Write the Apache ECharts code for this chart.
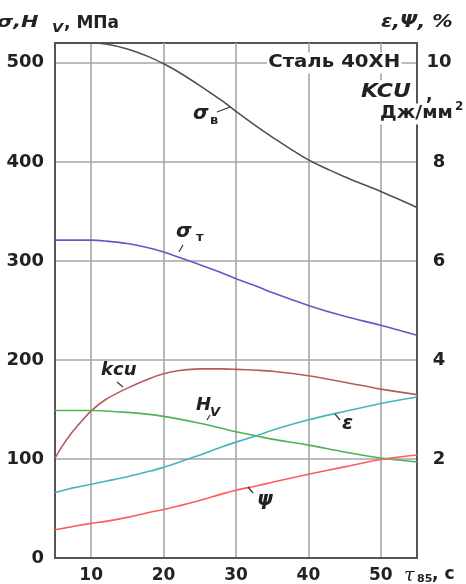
<!DOCTYPE html>
<html><head><meta charset="utf-8">
<script src="https://cdn.jsdelivr.net/npm/echarts@6/dist/echarts.min.js"></script>
<style>html,body{margin:0;padding:0;background:#fff}#c{width:466px;height:584px}</style>
</head><body><div id="c"></div>
<script>
// t85, s
const tValues   = [5, 6, 7, 8, 10, 12, 15, 18, 20, 22, 25, 28, 30, 33, 35, 40, 45, 50, 55];
// MPa (left axis)
const sigmaB    = [520, 520, 520, 520, 520, 519, 514, 506, 499, 491, 477, 462, 451, 435, 425, 402, 385, 370, 354];
const sigmaT    = [321, 321, 321, 321, 321, 320, 317.5, 313, 309, 304, 296, 288, 282, 274, 268, 255, 244, 235, 225];
const hv        = [149, 149, 149, 149, 149, 148.5, 147, 145, 143, 140.5, 136, 131, 127.5, 123, 120, 114, 107, 101, 97];
// J/mm2 and % (right axis)
const kcu       = [2.02, 2.26, 2.47, 2.65, 2.97, 3.20, 3.43, 3.62, 3.72, 3.78, 3.82, 3.82, 3.81, 3.79, 3.77, 3.68, 3.55, 3.41, 3.30];
const epsilon   = [1.32, 1.36, 1.40, 1.43, 1.49, 1.55, 1.64, 1.75, 1.83, 1.93, 2.08, 2.24, 2.34, 2.48, 2.58, 2.79, 2.96, 3.12, 3.25];
const psi       = [0.57, 0.595, 0.62, 0.65, 0.70, 0.74, 0.82, 0.92, 0.98, 1.05, 1.16, 1.29, 1.37, 1.46, 1.53, 1.69, 1.84, 1.99, 2.08];
const xTicks    = [10, 20, 30, 40, 50];
const yLeftTicks  = [0, 100, 200, 300, 400, 500];
const yRightTicks = [2, 4, 6, 8, 10];

const pair = arr => tValues.map((t, i) => [t, arr[i]]);
const FONT = '"DejaVu Sans", Arial, sans-serif';
const LBL = { fontFamily: FONT, fontSize: 17, fontWeight: 'bold', color: '#222' };
const gridLine = { show: true, showMinLine: false, showMaxLine: false, lineStyle: { color: '#a6a6a6', width: 1.6 } };
const axLine = { show: true, lineStyle: { color: '#555', width: 2 } };

const chart = echarts.init(document.getElementById('c'), null, { renderer: 'canvas' });

function ser(name, arr, color, yIdx, w) {
  return { name, type: 'line', data: pair(arr), yAxisIndex: yIdx, smooth: 0.3, showSymbol: false,
           lineStyle: { color, width: w || 1.6 }, itemStyle: { color }, z: 3 };
}

const T = (text, x, y, font, extra, sx) => ({ type: 'text', x, y, z: 50, scaleX: sx || 1,
  style: Object.assign({ text, font, fill: '#222', textVerticalAlign: 'middle', verticalAlign: 'middle', textAlign: 'left', align: 'left' }, extra || {}) });
const L = (x1, y1, x2, y2) => ({ type: 'line', z: 50, shape: { x1, y1, x2, y2 }, style: { stroke: '#333', lineWidth: 1.2 } });
const IB = 'italic bold 20px ' + FONT;
const B = 'bold 17px ' + FONT;

chart.setOption({
  animation: false,
  backgroundColor: '#fff',
  grid: { left: 55, right: 49, top: 43, bottom: 26, show: true, borderColor: '#555', borderWidth: 2, backgroundColor: 'transparent' },
  xAxis: {
    type: 'value', min: 5, max: 55, splitNumber: 5, minInterval: 10, maxInterval: 10,
    axisLine: axLine, axisTick: { show: false }, splitLine: gridLine,
    axisLabel: Object.assign({}, LBL, { margin: 9, formatter: v => xTicks.includes(v) ? String(v) : '' })
  },
  yAxis: [
    { type: 'value', min: 0, max: 520, interval: 100, position: 'left',
      axisLine: axLine, axisTick: { show: false }, splitLine: gridLine,
      axisLabel: Object.assign({}, LBL, { fontSize: 18, margin: 11, formatter: v => yLeftTicks.includes(v) ? String(v) : '' }) },
    { type: 'value', min: 0, max: 10.4, interval: 2, position: 'right',
      axisLine: axLine, axisTick: { show: false }, splitLine: { show: false },
      axisLabel: Object.assign({}, LBL, { fontSize: 18, margin: 22, align: 'center', formatter: v => yRightTicks.includes(v) ? String(v) : '' }) }
  ],
  series: [
    ser('σв', sigmaB, '#505050', 0),
    ser('σт', sigmaT, '#5c5cc8', 0),
    ser('KCU', kcu, '#b65c5c', 1),
    ser('Hv', hv, '#52b252', 0),
    ser('ε', epsilon, '#45b3c2', 1),
    ser('ψ', psi, '#ff5c5c', 1)
  ],
  graphic: [
    // axis titles
    T('σ,H', -3, 23, 'italic bold 16px ' + FONT, null, 1.3),
    T('V', 52, 29, 'italic bold 13px ' + FONT, null, 1.1),
    T(', МПа', 64, 24, B),
    T('ε,Ψ, %', 381, 23, 'italic bold 17px ' + FONT, null, 1.2),
    T('Сталь 40ХН', 267, 63, B, { backgroundColor: '#fff', padding: [2, 1] }, 1.16),
    T('KCU', 360, 92, 'italic bold 20px ' + FONT, { backgroundColor: '#fff', padding: [2, 1] }, 1.1),
    T(',', 426, 96, B),
    T('Дж/мм', 379, 114, B, { backgroundColor: '#fff', padding: [2, 1] }, 1.1),
    T('2', 455, 107, 'bold 12px ' + FONT),
    T('τ', 404, 576, 'italic 19px "DejaVu Serif", serif'),
    T('85', 417, 579, 'bold 11px ' + FONT),
    T(', с', 432, 575, B),
    // curve annotations
    T('σ', 193, 114, IB), T('в', 210, 121, 'bold 13px ' + FONT), L(217, 112, 230, 107),
    T('σ', 176, 232, IB), T('т', 196, 238, 'bold 13px ' + FONT), L(183, 245, 179, 252),
    T('kcu', 101, 370, 'italic bold 18px ' + FONT), L(117, 382, 123, 387),
    T('H', 196, 405, 'italic bold 18px ' + FONT), T('V', 210, 413, 'italic bold 13px ' + FONT), L(210, 415, 207, 420),
    T('ε', 342, 424, IB), L(335, 414, 340, 420),
    T('ψ', 257, 500, IB), L(248, 487, 253, 493)
  ]
});
</script></body></html>
